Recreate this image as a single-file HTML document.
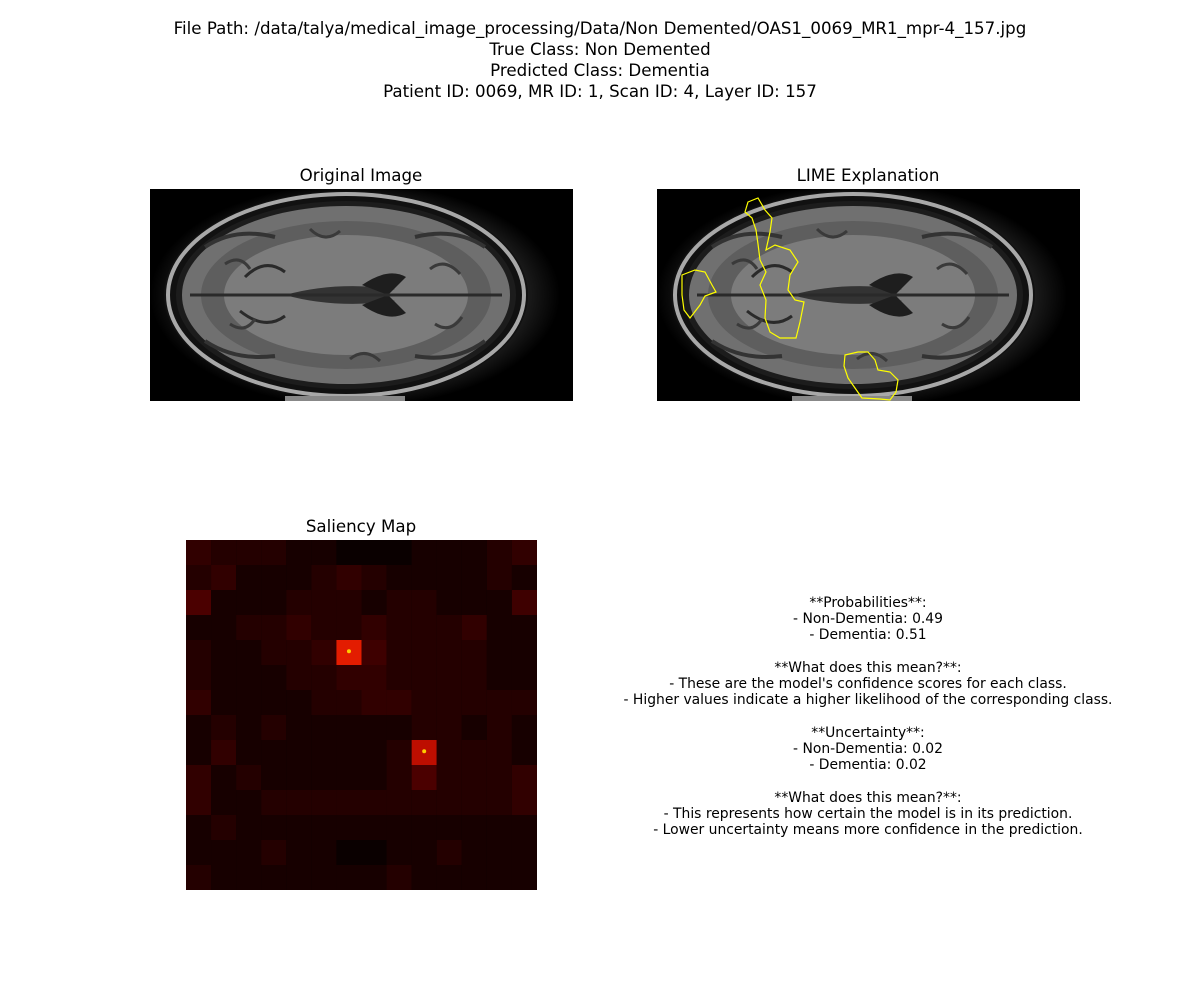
<!DOCTYPE html>
<html><head><meta charset="utf-8">
<style>
html,body{margin:0;padding:0;background:#fff;}
body{width:1200px;height:1000px;overflow:hidden;font-family:"DejaVu Sans",sans-serif;}
</style></head>
<body>
<svg width="1200" height="1000" xmlns="http://www.w3.org/2000/svg" style="font-family:'DejaVu Sans',sans-serif">
<defs>
  <radialGradient id="halo" cx="50%" cy="50%" r="50%">
    <stop offset="82%" stop-color="#262626"/><stop offset="100%" stop-color="#000"/>
  </radialGradient>
  <clipPath id="pclip"><rect x="0" y="0" width="423" height="212"/></clipPath>
  <g id="brain" clip-path="url(#pclip)">
    <rect x="0" y="0" width="423" height="212" fill="#000"/>
    <ellipse cx="205" cy="106" rx="205" ry="112" fill="url(#halo)" opacity="0.8"/>
    <ellipse cx="196" cy="106" rx="182" ry="104" fill="#111"/>
    <ellipse cx="196" cy="106" rx="178" ry="101" fill="none" stroke="#a8a8a8" stroke-width="4"/>
    <ellipse cx="196" cy="106" rx="170" ry="94" fill="#1c1c1c"/>
    <ellipse cx="196" cy="106" rx="164" ry="89" fill="#707070"/>
    <ellipse cx="196" cy="106" rx="145" ry="74" fill="#5e5e5e"/>
    <ellipse cx="196" cy="106" rx="122" ry="60" fill="#7c7c7c"/>
    <path d="M135,106 Q185,92 245,100 Q225,106 245,112 Q185,120 135,106Z" fill="#333"/>
    <path d="M212,96 Q238,78 256,88 L238,106 Z" fill="#1e1e1e"/>
    <path d="M212,116 Q238,134 256,124 L238,106 Z" fill="#1e1e1e"/>
    <path d="M95,88 Q115,68 135,83 M90,122 Q115,142 135,127 M40,106 L352,106" stroke="#2a2a2a" stroke-width="3" fill="none"/>
    <path d="M55,58 Q85,38 125,48 M265,48 Q305,38 335,58 M55,152 Q85,172 125,167 M265,167 Q305,174 335,152" stroke="#333" stroke-width="4" fill="none"/>
    <path d="M75,75 Q90,65 100,80 M80,135 Q95,145 105,130 M280,80 Q295,68 310,85 M285,135 Q300,145 312,128 M160,40 Q175,55 190,42 M200,170 Q215,158 230,172" stroke="#3a3a3a" stroke-width="3" fill="none"/>
    <rect x="135" y="207" width="120" height="5" fill="#888"/>
  </g>
</defs>

<g font-size="16.67" text-anchor="middle" fill="#000">
  <text x="600" y="34">File Path: /data/talya/medical_image_processing/Data/Non Demented/OAS1_0069_MR1_mpr-4_157.jpg</text>
  <text x="600" y="55">True Class: Non Demented</text>
  <text x="600" y="76">Predicted Class: Dementia</text>
  <text x="600" y="97">Patient ID: 0069, MR ID: 1, Scan ID: 4, Layer ID: 157</text>
</g>

<text x="361" y="181" font-size="16.67" text-anchor="middle">Original Image</text>
<use href="#brain" x="150" y="189"/>

<text x="868" y="181" font-size="16.67" text-anchor="middle">LIME Explanation</text>
<use href="#brain" x="657" y="189"/>
<g fill="none" stroke="#ffff00" stroke-width="1.2">
  <path d="M748,202 L758,198 L765,210 L772,218 L770,232 L766,250 L775,245 L790,250 L798,262 L790,275 L788,290 L795,300 L804,302 L800,322 L796,338 L780,338 L770,332 L765,318 L766,300 L760,285 L766,272 L760,260 L758,244 L756,230 L752,218 L745,212 Z"/>
  <path d="M682,275 L695,270 L705,272 L712,285 L716,292 L705,296 L700,305 L690,318 L684,310 L682,295 Z"/>
  <path d="M845,355 L858,352 L868,352 L875,360 L878,370 L890,372 L898,380 L896,392 L890,400 L880,399 L862,398 L855,388 L848,378 L844,366 Z"/>
</g>

<text x="361" y="532" font-size="16.67" text-anchor="middle">Saliency Map</text>
<g id="sal"></g>

<g font-size="13.89" text-anchor="middle" fill="#000">
  <text x="868" y="607">**Probabilities**:</text>
  <text x="868" y="623">- Non-Dementia: 0.49</text>
  <text x="868" y="639">- Dementia: 0.51</text>
  <text x="868" y="672">**What does this mean?**:</text>
  <text x="868" y="688">- These are the model's confidence scores for each class.</text>
  <text x="868" y="704">- Higher values indicate a higher likelihood of the corresponding class.</text>
  <text x="868" y="737">**Uncertainty**:</text>
  <text x="868" y="753">- Non-Dementia: 0.02</text>
  <text x="868" y="769">- Dementia: 0.02</text>
  <text x="868" y="802">**What does this mean?**:</text>
  <text x="868" y="818">- This represents how certain the model is in its prediction.</text>
  <text x="868" y="834">- Lower uncertainty means more confidence in the prediction.</text>
</g>
</svg>
<script>
const saliency = [
 [3,2,2,2,1,1,0,0,0,1,1,1,2,3],
 [2,3,1,1,1,2,3,2,1,1,1,1,2,1],
 [5,1,1,1,2,2,2,1,2,2,1,1,1,4],
 [1,1,2,2,3,2,2,3,2,2,2,3,1,1],
 [2,1,1,2,2,3,9,4,2,2,2,2,1,1],
 [2,1,1,1,2,2,3,3,2,2,2,2,1,1],
 [3,1,1,1,1,2,2,3,3,2,2,2,2,2],
 [1,2,1,2,1,1,1,1,1,2,2,1,2,1],
 [1,3,1,1,1,1,1,1,2,8,2,2,2,1],
 [3,1,2,1,1,1,1,1,2,5,2,2,2,3],
 [3,1,1,2,2,2,2,2,2,2,2,2,2,3],
 [1,2,1,1,1,1,1,1,1,1,1,1,1,1],
 [1,1,1,2,1,1,0,0,1,1,2,1,1,1],
 [2,1,1,1,1,1,1,1,2,1,1,1,1,1]
];
const NS='http://www.w3.org/2000/svg';
const g=document.getElementById('sal');
const X0=186,Y0=540,W=351,H=350;
const rows=saliency.length, cols=saliency[0].length;
const cw=W/cols, ch=H/rows;
function color(v){
  const r=Math.min(255,Math.round(10+v*13+(v>5?(v-5)*25:0))), gg=v>7?(v-7)*14:0;
  return 'rgb('+r+','+gg+',0)';
}
const bg=document.createElementNS(NS,'rect');
bg.setAttribute('x',X0);bg.setAttribute('y',Y0);bg.setAttribute('width',W);bg.setAttribute('height',H);bg.setAttribute('fill','#0a0000');


g.appendChild(bg);
for(let i=0;i<rows;i++){for(let j=0;j<cols;j++){
  const v=saliency[i][j];
  const r=document.createElementNS(NS,'rect');
  r.setAttribute('x',X0+j*cw);r.setAttribute('y',Y0+i*ch);
  r.setAttribute('width',cw);r.setAttribute('height',ch);
  r.setAttribute('fill',color(v));
  
  
  g.appendChild(r);
  if(v>=8){
    const c=document.createElementNS(NS,'circle');
    c.setAttribute('cx',X0+(j+0.5)*cw);c.setAttribute('cy',Y0+(i+0.45)*ch);
    c.setAttribute('r',2);c.setAttribute('fill','#ffcc00');
    
    
    g.appendChild(c);
  }
}}
</script>
</body></html>
